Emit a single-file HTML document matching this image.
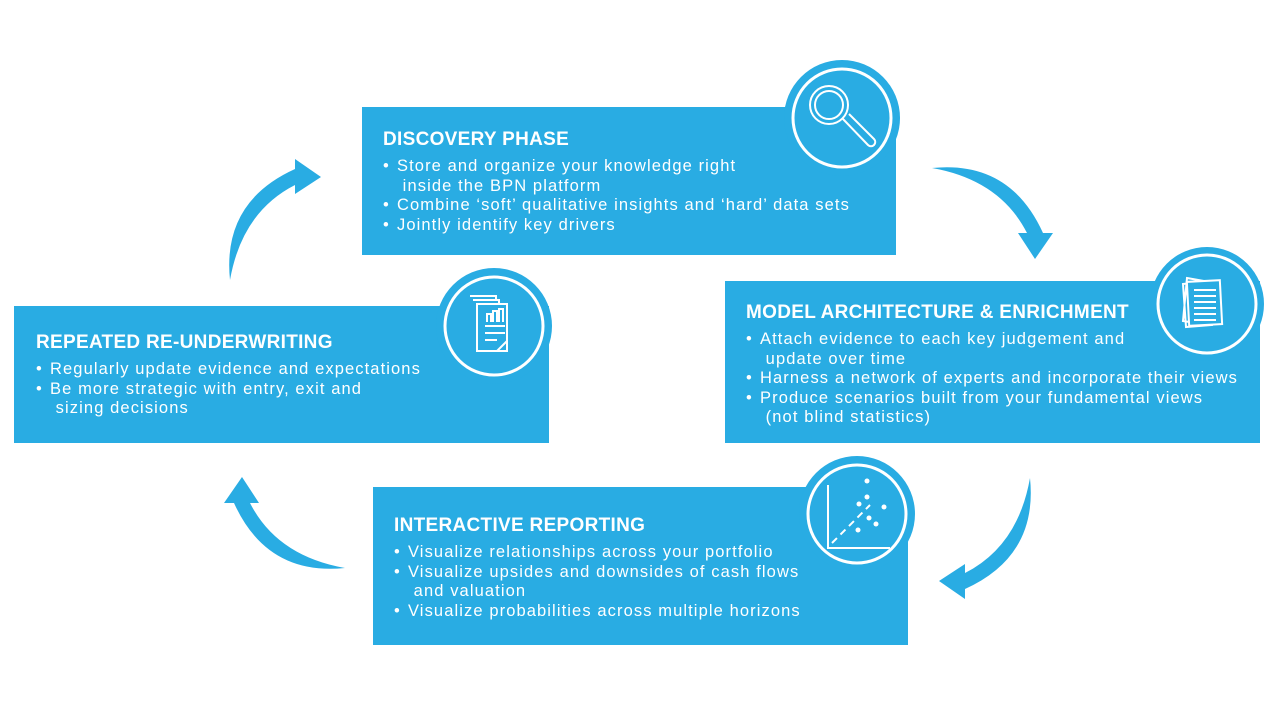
<!DOCTYPE html>
<html><head><meta charset="utf-8"><style>
html,body{margin:0;padding:0;background:#fff;}
body{width:1288px;height:714px;position:relative;overflow:hidden;font-family:"Liberation Sans",sans-serif;}
.box{position:absolute;background:#29ace3;color:#fff;}
.box h2{margin:0;font-size:19px;font-weight:bold;letter-spacing:0.3px;}
.box ul{margin:6px 0 0 0;padding:0;list-style:none;font-size:16.5px;line-height:19.6px;letter-spacing:1.1px;white-space:nowrap;}
.box li{padding-left:14px;text-indent:-14px;}
.box li:before{content:"•";display:inline-block;width:14px;text-indent:0;}
svg{position:absolute;left:0;top:0;}
</style></head><body>
<div class="box" style="left:362px;top:107px;width:534px;height:148px;">
<div style="position:absolute;left:21px;top:22px;width:500px;"><h2>DISCOVERY PHASE</h2>
<ul><li>Store and organize your knowledge right<br>&nbsp;inside the BPN platform</li><li>Combine ‘soft’ qualitative insights and ‘hard’ data sets</li><li>Jointly identify key drivers</li></ul></div></div>
<div class="box" style="left:725px;top:281px;width:535px;height:162px;">
<div style="position:absolute;left:21px;top:21px;width:510px;"><h2>MODEL ARCHITECTURE &amp; ENRICHMENT</h2>
<ul><li>Attach evidence to each key judgement and<br>&nbsp;update over time</li><li>Harness a network of experts and incorporate their views</li><li>Produce scenarios built from your fundamental views<br>&nbsp;(not blind statistics)</li></ul></div></div>
<div class="box" style="left:14px;top:306px;width:535px;height:137px;">
<div style="position:absolute;left:22px;top:26px;width:500px;"><h2>REPEATED RE-UNDERWRITING</h2>
<ul><li>Regularly update evidence and expectations</li><li>Be more strategic with entry, exit and<br>&nbsp;sizing decisions</li></ul></div></div>
<div class="box" style="left:373px;top:487px;width:535px;height:158px;">
<div style="position:absolute;left:21px;top:28px;width:510px;"><h2>INTERACTIVE REPORTING</h2>
<ul><li>Visualize relationships across your portfolio</li><li>Visualize upsides and downsides of cash flows<br>&nbsp;and valuation</li><li>Visualize probabilities across multiple horizons</li></ul></div></div>
<svg width="1288" height="714" viewBox="0 0 1288 714">
<defs><path id="arr" d="M0,0 Q78,-8 111,65 L121,65 L103,91 L86,65 L95,65 Q68,12 0,0 Z" fill="#29ace3"/></defs>
<use href="#arr" transform="translate(932,168)"/>
<use href="#arr" transform="translate(1030,478) rotate(90)"/>
<use href="#arr" transform="translate(345,568) rotate(180)"/>
<use href="#arr" transform="translate(230,280) rotate(-90)"/>
<g fill="#29ace3" stroke="#fff" stroke-width="3">
<circle cx="842" cy="118" r="58" stroke="none"/><circle cx="842" cy="118" r="49"/>
<circle cx="1207" cy="304" r="57" stroke="none"/><circle cx="1207" cy="304" r="49"/>
<circle cx="494" cy="326" r="58" stroke="none"/><circle cx="494" cy="326" r="49"/>
<circle cx="857" cy="514" r="58" stroke="none"/><circle cx="857" cy="514" r="49"/>
</g>
<g fill="none" stroke="#fff" stroke-width="2">
<circle cx="829" cy="105" r="19"/><circle cx="829" cy="105" r="14"/>
<path d="M843,119 L868,145 a4,4 0 0 0 6,-6 L849,114"/>
<path d="M1187,278 l28,5 l-6,42 l-26,-4 z M1183,284 l26,-3 l3,44 l-26,2 z"/>
<rect x="1188" y="281" width="33" height="44" fill="#29ace3" transform="rotate(-3 1204 303)"/>
<path d="M1194,290h22M1194,296h22M1194,302h22M1194,308h22M1194,314h22M1194,320h22"/>
<path d="M470,296h26v5M473,300h26v5M477,304h30v47h-30z"/>
<path d="M487,322v-8h4v8M493,322v-11h4v11M499,322v-13h4v13M485,326h20M485,333h20M485,340h12M497,351l10,-10"/>
<path d="M828,485v63h62"/>
<path d="M832,543l38,-38" stroke-dasharray="7,5"/>
</g>
<g fill="#fff"><circle cx="867" cy="481" r="2.5"/><circle cx="867" cy="497" r="2.5"/><circle cx="859" cy="504" r="2.5"/><circle cx="884" cy="507" r="2.5"/><circle cx="869" cy="518" r="2.5"/><circle cx="876" cy="524" r="2.5"/><circle cx="858" cy="530" r="2.5"/></g>
</svg>
</body></html>
